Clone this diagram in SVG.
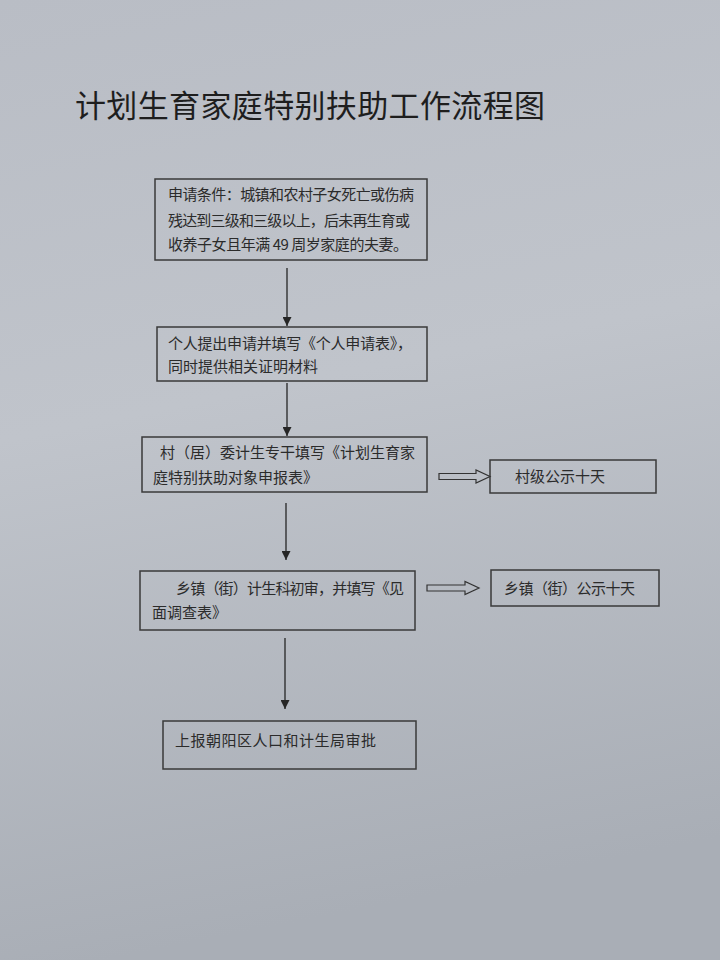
<svg xmlns="http://www.w3.org/2000/svg" width="720" height="960" viewBox="0 0 720 960">
<defs>
<linearGradient id="paper" x1="0" y1="0" x2="0.15" y2="1">
<stop offset="0" stop-color="#b9bdc5"/>
<stop offset="0.45" stop-color="#c0c4cb"/>
<stop offset="1" stop-color="#a9aeb6"/>
</linearGradient>
<marker id="ah" viewBox="0 0 10 10" refX="10" refY="5" markerWidth="9" markerHeight="9" markerUnits="userSpaceOnUse" orient="auto">
<path d="M0,0 L10,5 L0,10 Z" fill="#262626"/>
</marker>
<style>
.box{fill:none;stroke:#3a3a3a;stroke-width:1.5}
.t{font-family:"Noto Sans CJK SC","Noto Sans",sans-serif;font-size:15px;fill:#2b2b2b}
.title{font-family:"Noto Sans CJK SC","Noto Sans",sans-serif;font-size:31px;fill:#1e1e1e}
.line{stroke:#262626;stroke-width:1.3;fill:none}
.hollow{fill:none;stroke:#333;stroke-width:1.2}
</style>
</defs>
<rect width="720" height="960" fill="url(#paper)"/>
<text class="title" x="75" y="117" textLength="470">计划生育家庭特别扶助工作流程图</text>

<g id="node-conditions">
<rect class="box" x="155" y="179" width="272" height="81"/>
<text class="t" x="168" y="200" textLength="246">申请条件：城镇和农村子女死亡或伤病</text>
<text class="t" x="168" y="226" textLength="242">残达到三级和三级以上，后未再生育或</text>
<text class="t" x="168" y="250" textLength="240">收养子女且年满 49 周岁家庭的夫妻。</text>
</g>

<g id="node-apply">
<rect class="box" x="157" y="327" width="270" height="54"/>
<text class="t" x="168" y="349" textLength="244">个人提出申请并填写《个人申请表》，</text>
<text class="t" x="168" y="372">同时提供相关证明材料</text>
</g>

<g id="node-village">
<rect class="box" x="142" y="437" width="285" height="55"/>
<text class="t" x="160" y="458" textLength="255">村（居）委计生专干填写《计划生育家</text>
<text class="t" x="153" y="483">庭特别扶助对象申报表》</text>
</g>

<g id="node-village-notice">
<rect class="box" x="490" y="460" width="166" height="33"/>
<text class="t" x="515" y="482">村级公示十天</text>
</g>

<g id="node-town">
<rect class="box" x="140" y="571" width="275" height="59"/>
<text class="t" x="176" y="594" textLength="228">乡镇（街）计生科初审，并填写《见</text>
<text class="t" x="152" y="618">面调查表》</text>
</g>

<g id="node-town-notice">
<rect class="box" x="491" y="570" width="168" height="36"/>
<text class="t" x="504" y="594" textLength="131">乡镇（街）公示十天</text>
</g>

<g id="node-report">
<rect class="box" x="163" y="721" width="253" height="48"/>
<text class="t" x="175" y="746" textLength="201">上报朝阳区人口和计生局审批</text>
</g>

<g id="connectors">
<line class="line" x1="287" y1="268" x2="287" y2="326" marker-end="url(#ah)"/>
<line class="line" x1="287" y1="383" x2="287" y2="436" marker-end="url(#ah)"/>
<line class="line" x1="286" y1="503" x2="286" y2="560" marker-end="url(#ah)"/>
<line class="line" x1="285" y1="638" x2="285" y2="709" marker-end="url(#ah)"/>
<path class="hollow" d="M439,473.5 L476,473.5 L476,470 L490,476.5 L476,483 L476,479.5 L439,479.5 Z"/>
<path class="hollow" d="M427,585 L465,585 L465,581.5 L479,588 L465,594.5 L465,591 L427,591 Z"/>
</g>
</svg>
